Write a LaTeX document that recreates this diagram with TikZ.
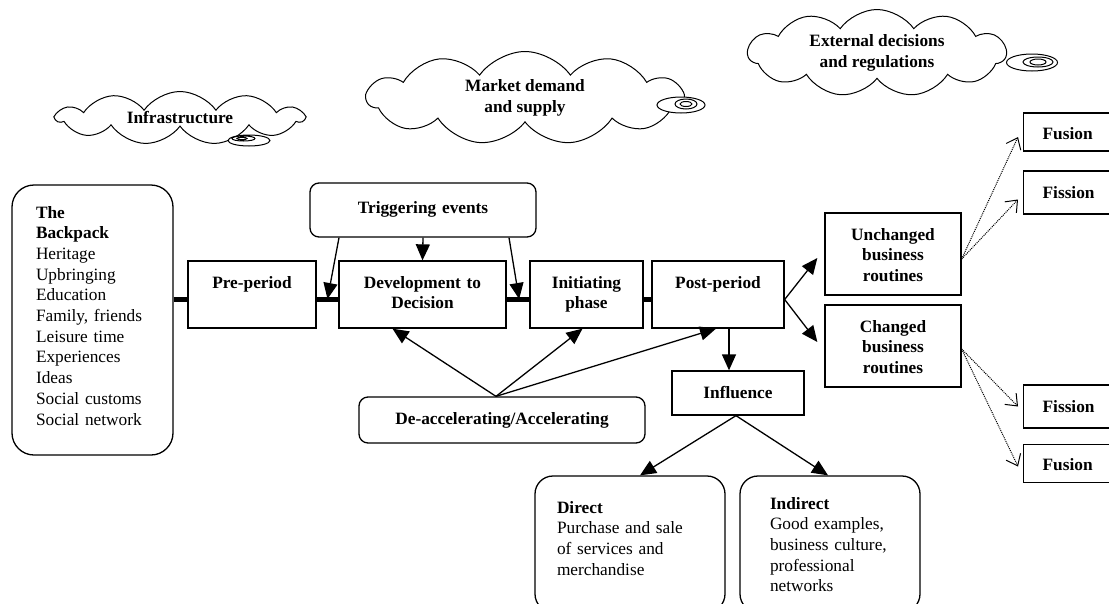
\documentclass[tikz,border=0pt]{standalone}
\usepackage{fontspec}
\setmainfont{Liberation Serif}
\usetikzlibrary{arrows.meta}
\usetikzlibrary{calc}
\usetikzlibrary{shapes.symbols}
\newcommand{\diagfont}{\fontsize{17.3pt}{20.7pt}\selectfont}

\begin{document}
\begin{tikzpicture}[
		x=1pt, y=-1pt,
		stage/.style={draw, line width=1.3pt, fill=white, font=\diagfont\bfseries,
			align=center, inner sep=0pt, text height=27pt},
		roundbox/.style={stage, rounded corners=#1},
		sidebox/.style={stage, anchor=west, align=left, text width=100pt,
			inner xsep=19pt, text height=27pt},
		note/.style={draw, line width=1.3pt, align=left, font=\diagfont, inner ysep=0pt},
		thought/.style={cloud, draw, line width=1pt, cloud puffs=11, cloud puff arc=110,
			cloud ignores aspect, inner sep=0pt, font=\diagfont\bfseries, align=center},
		spine/.style={line width=5pt},
		arr/.style={line width=1.3pt, -{Triangle[length=16pt,width=14pt]}},
		dotarr/.style={line width=1pt, densely dotted, -{Straight Barb[length=10pt,width=16pt]}}
	]
	\useasboundingbox (0,0) rectangle (1109,603);

	\node[thought, minimum width=247pt, minimum height=53pt] (infra)
		at (180,118) {Infrastructure};
	\node[thought, minimum width=316pt, minimum height=93pt] (market)
		at (525,98) {Market demand\\and supply};
	\node[thought, minimum width=258pt, minimum height=87pt] (extern)
		at (877,53) {External decisions\\and regulations};
	\draw[line width=1pt, fill=white]
		(249,140.5) ellipse [x radius=21, y radius=5.5]
		(243.5,138.5) ellipse [x radius=11.5, y radius=2.5]
		(242,138.5) ellipse [x radius=5, y radius=1.2];
	\draw[line width=1pt, fill=white]
		(681,105) ellipse [x radius=24, y radius=8]
		(686,104) ellipse [x radius=11, y radius=5]
		(686,104) ellipse [x radius=6, y radius=2.5];
	\draw[line width=1pt, fill=white]
		(1032,62.5) ellipse [x radius=25.5, y radius=8.5]
		(1038,62) ellipse [x radius=15, y radius=5]
		(1038,62) ellipse [x radius=8, y radius=3];

	\node[note, rounded corners=22pt, text width=113pt, inner xsep=24pt,
		text height=33pt, text depth=237pt] (backpack)
		at (92.5,320)
			{\textbf{The}\\\textbf{Backpack}\\Heritage\\Upbringing\\Education\\Family, friends\\Leisure time\\Experiences\\Ideas\\Social customs\\Social network};
	\node[stage, text width=128pt, text depth=40pt] (pre)
		at (252,294.5) {Pre-period};
	\node[stage, text width=167pt, text depth=40pt] (dev)
		at (422.5,294.5) {Development to\\Decision};
	\node[stage, text width=113pt, text depth=40pt] (init)
		at (586.5,294.5) {Initiating\\phase};
	\node[stage, text width=132pt, text depth=40pt] (post)
		at (718,294.5) {Post-period};
	\node[roundbox=9pt, text width=226pt, text height=30pt, text depth=24pt] (trig)
		at (423,210) {Triggering events};
	\node[roundbox=9pt, text width=286pt, text depth=19pt] (deacc)
		at (502,420) {De-accelerating/Accelerating};
	\node[stage, text width=132pt, text depth=17pt] (infl)
		at (738,393) {Influence};
	\node[stage, text width=136pt, text depth=55pt] (unch)
		at (893,254) {Unchanged\\business\\routines};
	\node[stage, text width=136pt, text depth=55pt] (chg)
		at (893,346) {Changed\\business\\routines};
	\node[sidebox, text height=26pt, text depth=12pt] (fus1)
		at (1023,132) {Fusion};
	\node[sidebox, text depth=16pt] (fis1)
		at (1023,192.5) {Fission};
	\node[sidebox, text depth=16pt] (fis2)
		at (1023,406.5) {Fission};
	\node[sidebox, text height=26pt, text depth=12pt] (fus2)
		at (1023,463.5) {Fusion};
	\node[note, rounded corners=18pt, text width=146pt, inner xsep=22pt,
		text height=37pt, text depth=99pt] (direct)
		at (630,544)
			{\textbf{Direct}\\Purchase and sale\\of services and\\merchandise};
	\node[note, rounded corners=18pt, text width=120pt, inner xsep=30pt,
		text height=33pt, text depth=103pt] (indirect)
		at (830,544)
			{\textbf{Indirect}\\Good examples,\\business culture,\\professional\\networks};

	\coordinate (sp) at (0,299);
	\draw[spine]
		(backpack.east |- sp) -- (pre.west |- sp)
		(pre.east |- sp) -- (dev.west |- sp)
		(dev.east |- sp) -- (init.west |- sp)
		(init.east |- sp) -- (post.west |- sp);

	\draw[arr]
		([xshift=-84pt]trig.south) -- ($(pre.east |- sp)!0.5!(dev.west |- sp)$);
	\draw[arr]
		(trig.south) -- (dev.north);
	\draw[arr]
		([xshift=86pt]trig.south) -- ($(dev.east |- sp)!0.55!(init.west |- sp)$);

	\coordinate (dsrc) at ([xshift=-6pt]deacc.north);
	\draw[arr] (dsrc) -- ([xshift=-30pt]dev.south);
	\draw[arr] (dsrc) -- ([xshift=-4pt]init.south);
	\draw[arr] (dsrc) -- ([xshift=-2pt]post.south);

	\draw[arr]
		([xshift=11pt]post.south) -- ([xshift=11pt]post.south |- infl.north);
	\draw[arr] ([xshift=-2pt]infl.south) -- ([xshift=10pt]direct.north);
	\draw[arr] ([xshift=-2pt]infl.south) -- ([xshift=-2pt]indirect.north);

	\coordinate (psrc) at ([yshift=-5pt]post.east);
	\draw[arr] (psrc) -- ([xshift=-7pt,yshift=-4pt]unch.west);
	\draw[arr] (psrc) -- ([xshift=-7pt,yshift=4pt]chg.west);

	\draw[dotarr] ([yshift=-5pt]unch.east) -- ([xshift=-5pt,yshift=-5pt]fus1.west);
	\draw[dotarr] ([yshift=-5pt]unch.east) -- ([xshift=-5pt,yshift=-7pt]fis1.west);
	\draw[dotarr] ([yshift=-3pt]chg.east) -- ([xshift=-5pt]fis2.west);
	\draw[dotarr] ([yshift=-3pt]chg.east) -- ([xshift=-5pt,yshift=-3pt]fus2.west);
\end{tikzpicture}
\end{document}
